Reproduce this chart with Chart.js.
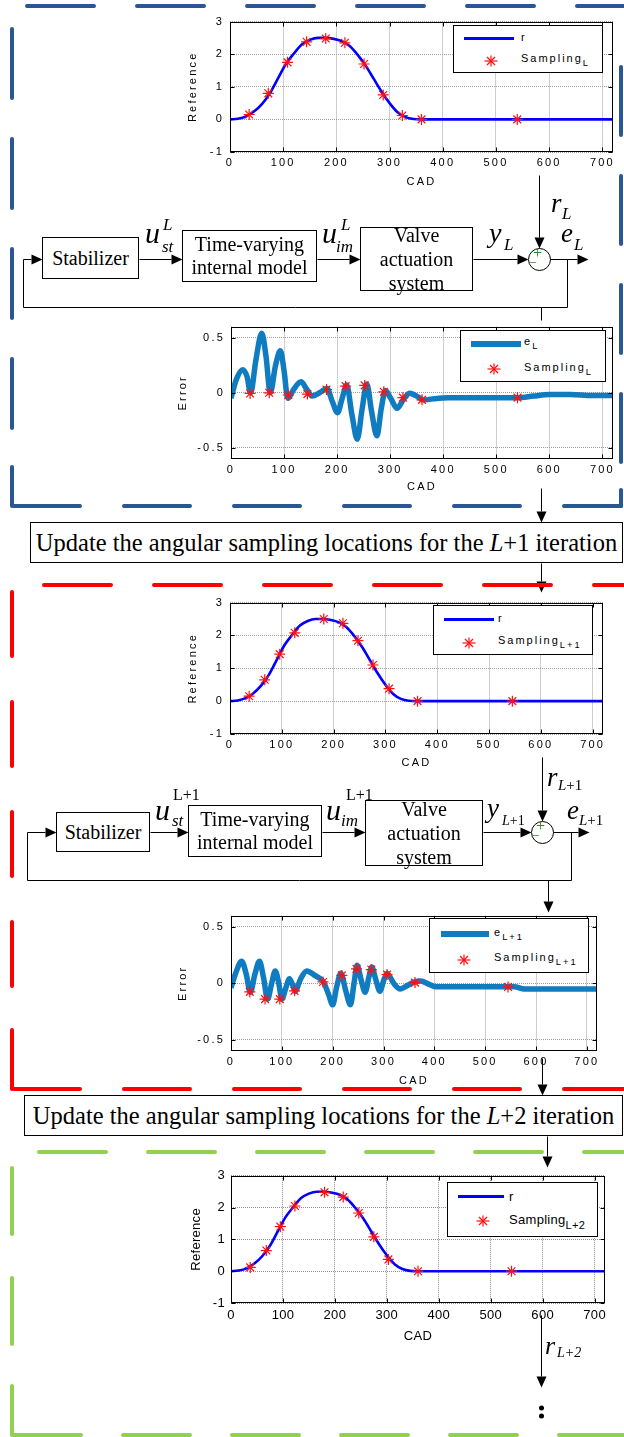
<!DOCTYPE html>
<html lang="en">
<head>
<meta charset="utf-8">
<title>Angular sampling update over iterations</title>
<script src="https://cdn.jsdelivr.net/npm/chart.js"></script>
<style>
  body { margin: 0; background: #fff; }
  #page { position: relative; width: 624px; height: 1437px; overflow: hidden; font-family: 'Liberation Serif', 'Times New Roman', serif; }
  #diagram { position: absolute; left: 0; top: 0; z-index: 0; }
  canvas.plot { position: absolute; z-index: 1; }
  .blk { position: absolute; z-index: 2; border: 1px solid #000; background: #fff; box-sizing: border-box;
         display: flex; flex-direction: column; justify-content: center; align-items: center; font-size: 20px; white-space: nowrap; }
  .upd { position: absolute; z-index: 2; border: 1px solid #000; background: #fff; box-sizing: border-box;
         display: flex; justify-content: center; align-items: center; font-size: 24.5px; white-space: nowrap; }
  .lbl { position: absolute; z-index: 2; font-style: italic; line-height: 1; white-space: nowrap; }
  .legend { position: absolute; z-index: 3; border: 1px solid #000; background: #fff; box-sizing: border-box; font-family: 'Liberation Sans', Arial, sans-serif; }
  .legend span { position: absolute; line-height: 1; white-space: nowrap; }
  .legend sub { font-size: 0.85em; vertical-align: -0.45em; line-height: 0; }
  .legend svg { position: absolute; }
</style>
</head>
<body>
<div id="page">
  <canvas id="diagram" width="624" height="1437"></canvas>
  <canvas class="plot" id="refL"></canvas>
  <canvas class="plot" id="errL"></canvas>
  <canvas class="plot" id="refL1"></canvas>
  <canvas class="plot" id="errL1"></canvas>
  <canvas class="plot" id="refL2"></canvas>

  <div class="upd" style="left:30px;top:522px;width:593px;height:41px">Update the angular sampling locations for the&nbsp;<i>L</i>+1 iteration</div>
  <div class="upd" style="left:24px;top:1095px;width:599px;height:41px">Update the angular sampling locations for the&nbsp;<i>L</i>+2 iteration</div>
</div>

<script>
// shared axis ticks
const xTicks = [0, 100, 200, 300, 400, 500, 600, 700];
const refTicks = [-1, 0, 1, 2, 3];
const errTicks = [-0.5, 0, 0.5];

// reference lift profile r (same in every iteration)
const refCad = [0, 15, 30, 45, 60, 75, 90, 105, 120, 135, 150, 165, 180, 195, 210, 225, 240, 255, 270, 285, 300, 315, 330, 345, 360, 720];
const refVal = [0, 0.02, 0.09, 0.24, 0.47, 0.8, 1.25, 1.7, 2.02, 2.3, 2.44, 2.5, 2.5, 2.47, 2.4, 2.25, 1.98, 1.65, 1.25, 0.85, 0.5, 0.22, 0.07, 0.01, 0, 0];

// iteration L
const sampCadL = [36, 72, 108, 144, 180, 216, 252, 288, 324, 360, 540];
const sampRefL = [0.15, 0.8, 1.75, 2.38, 2.48, 2.35, 1.7, 0.75, 0.12, 0, 0];
const sampErrL = [-0.006, 0, -0.02, -0.012, 0.03, 0.06, 0.067, 0.009, -0.044, -0.064, -0.044];
const errCadL = [0, 10, 22, 30, 37, 47, 58, 66, 74, 84, 93, 100, 107, 118, 132, 143, 153, 167, 181, 191, 201, 209, 218, 228, 238, 247, 256, 265, 275, 283, 291, 301, 313, 325, 337, 350, 363, 380, 410, 450, 500, 540, 570, 600, 640, 680, 720];
const errValL = [-0.05, 0.12, 0.21, 0.15, 0.0, 0.3, 0.54, 0.33, 0.0, 0.25, 0.38, 0.2, -0.05, 0.03, 0.1, 0.03, -0.03, 0.0, 0.04, -0.08, -0.18, -0.06, 0.07, -0.2, -0.42, -0.15, 0.08, -0.17, -0.39, -0.15, 0.02, -0.05, -0.14, -0.06, -0.005, -0.03, -0.065, -0.055, -0.045, -0.045, -0.045, -0.045, -0.03, -0.015, -0.015, -0.025, -0.025];

// iteration L+1
const sampCadL1 = [37, 67, 96, 125, 181, 218, 247, 276, 307, 362, 545];
const sampRefL1 = [0.15, 0.65, 1.43, 2.08, 2.5, 2.37, 1.84, 1.1, 0.38, 0, 0];
const sampErrL1 = [-0.076, -0.14, -0.14, -0.067, 0.012, 0.07, 0.128, 0.122, 0.078, 0.006, -0.032];
const errCadL1 = [0, 10, 21, 30, 38, 47, 56, 64, 72, 80, 87, 94, 100, 108, 115, 121, 126, 137, 149, 165, 182, 192, 200, 208, 216, 226, 235, 242, 248, 256, 264, 271, 277, 285, 293, 300, 307, 320, 333, 347, 360, 373, 390, 402, 450, 500, 557, 577, 620, 680, 720];
const errValL1 = [-0.04, 0.1, 0.195, 0.08, -0.08, 0.08, 0.195, 0.05, -0.14, 0.0, 0.11, 0.0, -0.14, -0.04, 0.04, -0.01, -0.07, 0.04, 0.11, 0.07, 0.01, -0.1, -0.19, -0.03, 0.09, -0.07, -0.19, 0.0, 0.16, 0.03, -0.08, 0.05, 0.145, 0.03, -0.07, 0.02, 0.09, 0.0, -0.05, -0.02, 0.01, 0.02, -0.01, -0.03, -0.03, -0.03, -0.03, -0.05, -0.05, -0.05, -0.05];

// iteration L+2
const sampCadL2 = [37, 68, 95, 123, 180, 216, 246, 275, 303, 360, 540];
const sampRefL2 = [0.12, 0.65, 1.4, 2.05, 2.48, 2.33, 1.83, 1.08, 0.37, 0, 0];

const refBlue = '#0000ff';
const errBlue = '#0f7cc2';

function pts(xs, ys) { return xs.map((x, i) => ({ x: x, y: ys[i] })); }

// matlab-like frame: box on all four sides with inward ticks
const matlabBox = {
  id: 'matlabBox',
  beforeDraw(chart, args, o) { chart.ctx.letterSpacing = o.spacing || '0px'; },
  afterDatasetsDraw(chart) {
    const ctx = chart.ctx, a = chart.chartArea, sx = chart.scales.x, sy = chart.scales.y;
    ctx.save();
    ctx.strokeStyle = '#000';
    ctx.lineWidth = 1;
    const L = Math.round(a.left) + 0.5, R = Math.round(a.right) - 0.5;
    const T = Math.round(a.top) + 0.5, B = Math.round(a.bottom) - 0.5;
    ctx.strokeRect(L, T, R - L, B - T);
    ctx.beginPath();
    sx.ticks.forEach(t => {
      const p = Math.round(sx.getPixelForValue(t.value)) + 0.5;
      ctx.moveTo(p, B); ctx.lineTo(p, B - 4);
      ctx.moveTo(p, T); ctx.lineTo(p, T + 4);
    });
    sy.ticks.forEach(t => {
      const p = Math.round(sy.getPixelForValue(t.value)) + 0.5;
      ctx.moveTo(L, p); ctx.lineTo(L + 4, p);
      ctx.moveTo(R, p); ctx.lineTo(R - 4, p);
    });
    ctx.stroke();
    ctx.restore();
  }
};

function plot(id, g, yMin, yMax, yTicks, datasets) {
  const cv = document.getElementById(id);
  const w = g.yW + (g.r - g.l) + 8, h = 10 + (g.b - g.t) + g.xH;
  cv.width = w; cv.height = h;
  cv.style.width = w + 'px'; cv.style.height = h + 'px';
  cv.style.left = (g.l - g.yW) + 'px'; cv.style.top = (g.t - 10) + 'px';
  const font = { family: "'Liberation Sans', Arial, sans-serif", size: g.fs };
  const grid = { color: g.gc, drawTicks: false, lineWidth: 1 };
  const border = { display: false, dash: [1, 1] };
  return new Chart(cv, {
    type: 'scatter',
    data: { datasets: datasets },
    options: {
      responsive: false, animation: false, devicePixelRatio: 1, events: [],
      layout: { padding: { left: 0, top: 10, right: 8, bottom: 0 } },
      plugins: { legend: { display: false }, tooltip: { enabled: false }, matlabBox: { spacing: g.sp } },
      scales: {
        x: {
          type: 'linear', min: 0, max: 720,
          afterFit: s => { s.height = g.xH; },
          afterBuildTicks: s => { s.ticks = xTicks.map(v => ({ value: v })); },
          grid: grid, border: border,
          ticks: { color: '#000', font: font, padding: g.tp, maxRotation: 0, autoSkip: false, callback: v => String(v) },
          title: { display: true, text: 'CAD', color: '#000', font: font, padding: { top: 0, bottom: g.xp } }
        },
        y: {
          type: 'linear', min: yMin, max: yMax,
          afterFit: s => { s.width = g.yW; },
          afterBuildTicks: s => { s.ticks = yTicks.map(v => ({ value: v })); },
          grid: grid, border: border,
          ticks: { color: '#000', font: font, padding: 6, autoSkip: false, callback: v => String(v) },
          title: { display: true, text: g.yt, color: '#000', font: font, padding: { top: g.yp, bottom: 0 } }
        }
      }
    },
    plugins: [matlabBox]
  });
}

function lineSet(xs, ys, color, width) {
  return { data: pts(xs, ys), showLine: true, borderColor: color, borderWidth: width, pointRadius: 0,
           cubicInterpolationMode: 'monotone', borderJoinStyle: 'round', order: 1 };
}
function starSet(xs, ys) {
  return { data: pts(xs, ys), showLine: false, pointStyle: 'star', pointRadius: 5.5, pointBorderWidth: 1.2,
           borderColor: '#ff1010', backgroundColor: '#ff1010', order: 0 };
}

const small = { fs: 11, sp: '2.2px', gc: '#9c9c9c', tp: 4 };

plot('refL', Object.assign({ l: 230, t: 19, r: 613, b: 152, yW: 50, xH: 40, xp: 3.4, yp: 6.4, yt: 'Reference' }, small),
  -1, 3, refTicks, [lineSet(refCad, refVal, refBlue, 2.6), starSet(sampCadL, sampRefL)]);

plot('errL', Object.assign({ l: 231, t: 324, r: 613, b: 459, yW: 55, xH: 40, xp: 5.4, yp: 0.4, yt: 'Error' }, small),
  -0.6, 0.6, errTicks, [lineSet(errCadL, errValL, errBlue, 5.5), starSet(sampCadL, sampErrL)]);

plot('refL1', Object.assign({ l: 230, t: 600, r: 603, b: 734, yW: 50, xH: 40, xp: 4.4, yp: 6.4, yt: 'Reference' }, small),
  -1, 3, refTicks, [lineSet(refCad, refVal, refBlue, 2.6), starSet(sampCadL1, sampRefL1)]);

plot('errL1', Object.assign({ l: 231, t: 913, r: 597, b: 1051, yW: 55, xH: 40, xp: 3.4, yp: 0.4, yt: 'Error' }, small),
  -0.6, 0.6, errTicks, [lineSet(errCadL1, errValL1, errBlue, 5.5), starSet(sampCadL1, sampErrL1)]);

plot('refL2', { l: 231, t: 1172, r: 605, b: 1303, yW: 50, xH: 45, xp: 4.2, yp: 7.2, yt: 'Reference', fs: 13, sp: '0.3px', gc: '#909090', tp: 5 },
  -1, 3, refTicks, [lineSet(refCad, refVal, refBlue, 2.6), starSet(sampCadL2, sampRefL2)]);

// legends (html, matlab style)
const page = document.getElementById('page');
function star(cx, cy) {
  return `<svg width="14" height="14" viewBox="-7 -7 14 14" style="left:${cx - 7}px;top:${cy - 7}px">` +
    '<g stroke="#ff1010" stroke-width="1.2"><line x1="-6.5" y1="0" x2="6.5" y2="0"/><line x1="0" y1="-5.5" x2="0" y2="5.5"/>' +
    '<line x1="-4" y1="-4" x2="4" y2="4"/><line x1="-4" y1="4" x2="4" y2="-4"/></g></svg>';
}
function legend(L) {
  const d = document.createElement('div');
  d.className = 'legend';
  Object.assign(d.style, { left: L.x + 'px', top: L.y + 'px', width: L.w + 'px', height: L.h + 'px', fontSize: L.fs + 'px', letterSpacing: L.sp });
  d.innerHTML =
    `<div style="position:absolute;left:${L.lx1 - L.x}px;top:${L.ly - L.y - L.lw / 2}px;width:${L.lx2 - L.lx1}px;height:${L.lw}px;background:${L.lc}"></div>` +
    star(L.sx - L.x, L.sy - L.y) +
    `<span style="left:${L.tx - L.x}px;top:${L.c1 - L.y - L.fs / 2}px">${L.t1}</span>` +
    `<span style="left:${L.tx - L.x}px;top:${L.c2 - L.y - L.fs / 2}px">${L.t2}</span>`;
  page.appendChild(d);
}
legend({ x: 453, y: 25, w: 150, h: 48, fs: 11, sp: '2px', lx1: 463, lx2: 513, ly: 37, lw: 3, lc: refBlue, sx: 490, sy: 60, tx: 520, c1: 36, c2: 57, t1: 'r', t2: 'Sampling<sub>L</sub>' });
legend({ x: 460, y: 330, w: 146, h: 52, fs: 11, sp: '2px', lx1: 470, lx2: 520, ly: 343, lw: 5.5, lc: errBlue, sx: 493, sy: 368, tx: 523, c1: 340, c2: 366, t1: 'e<sub>L</sub>', t2: 'Sampling<sub>L</sub>' });
legend({ x: 433, y: 605, w: 160, h: 50, fs: 11, sp: '2px', lx1: 443, lx2: 493, ly: 618, lw: 3, lc: refBlue, sx: 468, sy: 642, tx: 497, c1: 617, c2: 639, t1: 'r', t2: 'Sampling<sub>L+1</sub>' });
legend({ x: 429, y: 918, w: 160, h: 55, fs: 11, sp: '2px', lx1: 440, lx2: 488, ly: 933, lw: 5.5, lc: errBlue, sx: 463, sy: 959, tx: 493, c1: 931, c2: 956, t1: 'e<sub>L+1</sub>', t2: 'Sampling<sub>L+1</sub>' });
legend({ x: 447, y: 1182, w: 151, h: 55, fs: 13, sp: '0.3px', lx1: 457, lx2: 503, ly: 1195, lw: 3, lc: refBlue, sx: 482, sy: 1220, tx: 508, c1: 1195, c2: 1218, t1: 'r', t2: 'Sampling<sub>L+2</sub>' });

// block diagram: boxes
function block(x, y, w, h, lines, lh) {
  const d = document.createElement('div');
  d.className = 'blk';
  Object.assign(d.style, { left: x + 'px', top: y + 'px', width: w + 'px', height: h + 'px', lineHeight: lh + 'px' });
  d.innerHTML = lines.map(s => `<div>${s}</div>`).join('');
  page.appendChild(d);
}
block(42, 237, 97, 42, ['Stabilizer'], 23);
block(182, 230, 135, 52, ['Time-varying', 'internal model'], 23);
block(360, 227, 113, 64, ['Valve', 'actuation', 'system'], 24);
block(56, 812, 94, 40, ['Stabilizer'], 23);
block(188, 805, 134, 52, ['Time-varying', 'internal model'], 23);
block(365, 800, 118, 66, ['Valve', 'actuation', 'system'], 24);

// signal labels
function lbl(txt, x, base, size, extra) {
  const s = document.createElement('span');
  s.className = 'lbl';
  s.innerHTML = txt;
  Object.assign(s.style, { left: x + 'px', top: (base - 0.84 * size) + 'px', fontSize: size + 'px' }, extra || {});
  page.appendChild(s);
}
// loop L
lbl('u', 145, 243, 30); lbl('L', 163, 230, 17); lbl('st', 162, 252, 17);
lbl('u', 322, 243, 30); lbl('L', 341, 230, 17); lbl('im', 336, 252, 17);
lbl('y', 489, 243, 28); lbl('L', 504, 250, 17);
lbl('e', 561, 243, 27); lbl('L', 574, 250, 17);
lbl('r', 551, 213, 27); lbl('L', 562, 219, 17);
lbl('+', 533, 258, 16, { fontStyle: 'normal', color: '#1f8a1f' });
lbl('\u2212', 529, 268, 14, { fontStyle: 'normal', color: '#1f8a1f' });
// loop L+1
lbl('u', 155, 820, 30); lbl('L+1', 173, 800, 16, { fontStyle: 'normal' }); lbl('st', 172, 826, 17);
lbl('u', 326, 820, 30); lbl('L+1', 346, 800, 16, { fontStyle: 'normal' }); lbl('im', 341, 826, 17);
lbl('y', 487, 818, 27); lbl('<i>L</i>+1', 502, 826, 14, { fontStyle: 'normal' });
lbl('e', 567, 820, 27); lbl('<i>L</i>+1', 579, 826, 15, { fontStyle: 'normal' });
lbl('r', 547, 787, 27); lbl('<i>L</i>+1', 558, 791, 15, { fontStyle: 'normal' });
lbl('+', 536, 831, 16, { fontStyle: 'normal', color: '#1f8a1f' });
lbl('\u2212', 532, 841, 14, { fontStyle: 'normal', color: '#1f8a1f' });
// L+2 reference input
lbl('r', 545, 1355, 26); lbl('L+2', 557, 1358, 14);

// block diagram: lines, arrows, dashed frames
const dg = document.getElementById('diagram').getContext('2d');
dg.strokeStyle = '#000';
dg.fillStyle = '#000';
dg.lineWidth = 1;
function seg(x1, y1, x2, y2) {
  dg.beginPath(); dg.moveTo(x1 + 0.5, y1 + 0.5); dg.lineTo(x2 + 0.5, y2 + 0.5); dg.stroke();
}
function arrow(x1, y1, x2, y2) {
  const ang = Math.atan2(y2 - y1, x2 - x1), len = 11, hw = 5;
  const bx = x2 - len * Math.cos(ang), by = y2 - len * Math.sin(ang);
  seg(x1, y1, bx, by);
  dg.beginPath();
  dg.moveTo(x2 + 0.5, y2 + 0.5);
  dg.lineTo(bx + hw * Math.sin(ang) + 0.5, by - hw * Math.cos(ang) + 0.5);
  dg.lineTo(bx - hw * Math.sin(ang) + 0.5, by + hw * Math.cos(ang) + 0.5);
  dg.closePath(); dg.fill();
}
function circle(cx, cy, r) {
  dg.beginPath(); dg.arc(cx + 0.5, cy + 0.5, r, 0, Math.PI * 2); dg.stroke();
}

// loop L
arrow(23, 259, 42, 259);
seg(23, 259, 23, 307); seg(23, 307, 567, 307); seg(567, 307, 567, 259);
arrow(139, 259, 182, 259);
arrow(317, 259, 360, 259);
arrow(473, 259, 528, 259);
arrow(550, 259, 588, 259);
arrow(539, 175, 539, 248);
circle(539, 259, 11);
seg(541, 307, 541, 320);
arrow(541, 488, 541, 522);
arrow(541, 563, 541, 592);
// loop L+1
arrow(27, 832, 56, 832);
seg(27, 832, 27, 880); seg(27, 880, 571, 880); seg(571, 880, 571, 832);
arrow(150, 832, 188, 832);
arrow(322, 832, 365, 832);
arrow(483, 832, 531, 832);
arrow(553, 832, 589, 832);
arrow(542, 757, 542, 821);
circle(542, 832, 11);
arrow(548, 880, 548, 912);
arrow(542, 1058, 542, 1095);
arrow(547, 1136, 547, 1167);
// towards L+2 loop
arrow(541, 1315, 541, 1387);
[1408, 1416].forEach(y => { dg.beginPath(); dg.arc(541.5, y, 2.5, 0, Math.PI * 2); dg.fill(); });

function dashed(color, x1, y1, x2, y2, on, off) {
  dg.save();
  dg.strokeStyle = color; dg.lineWidth = 4; dg.lineCap = 'round';
  dg.setLineDash([on - 4, off + 4]);
  dg.beginPath(); dg.moveTo(x1 + 2 * Math.sign(x2 - x1), y1 + 2 * Math.sign(y2 - y1)); dg.lineTo(x2, y2); dg.stroke();
  dg.restore();
}
function solid(color, x1, y1, x2, y2) {
  dg.save();
  dg.strokeStyle = color; dg.lineWidth = 4; dg.lineCap = 'round';
  dg.beginPath(); dg.moveTo(x1, y1); dg.lineTo(x2, y2); dg.stroke();
  dg.restore();
}
const frameBlue = '#2b5694', frameRed = '#ff0000', frameGreen = '#92d050';
// iteration L frame
dashed(frameBlue, 25, 6, 624, 6, 71, 39);
dashed(frameBlue, 12, 27, 12, 467, 73, 37);
solid(frameBlue, 12, 467, 12, 506);
dashed(frameBlue, 12, 506, 621, 506, 70, 40);
dashed(frameBlue, 621, 65, 621, 467, 72, 37);
solid(frameBlue, 621, 490, 621, 506);
// iteration L+1 frame
dashed(frameRed, 42, 585, 624, 585, 71, 39);
dashed(frameRed, 12, 590, 12, 1030, 68, 42);
solid(frameRed, 12, 1030, 12, 1089);
dashed(frameRed, 12, 1089, 624, 1089, 70, 40);
// iteration L+2 frame
dashed(frameGreen, 37, 1152, 624, 1152, 71, 38);
dashed(frameGreen, 12, 1166, 12, 1386, 70, 40);
solid(frameGreen, 12, 1386, 12, 1435);
dashed(frameGreen, 12, 1435, 624, 1435, 71, 38);
</script>
</body>
</html>
